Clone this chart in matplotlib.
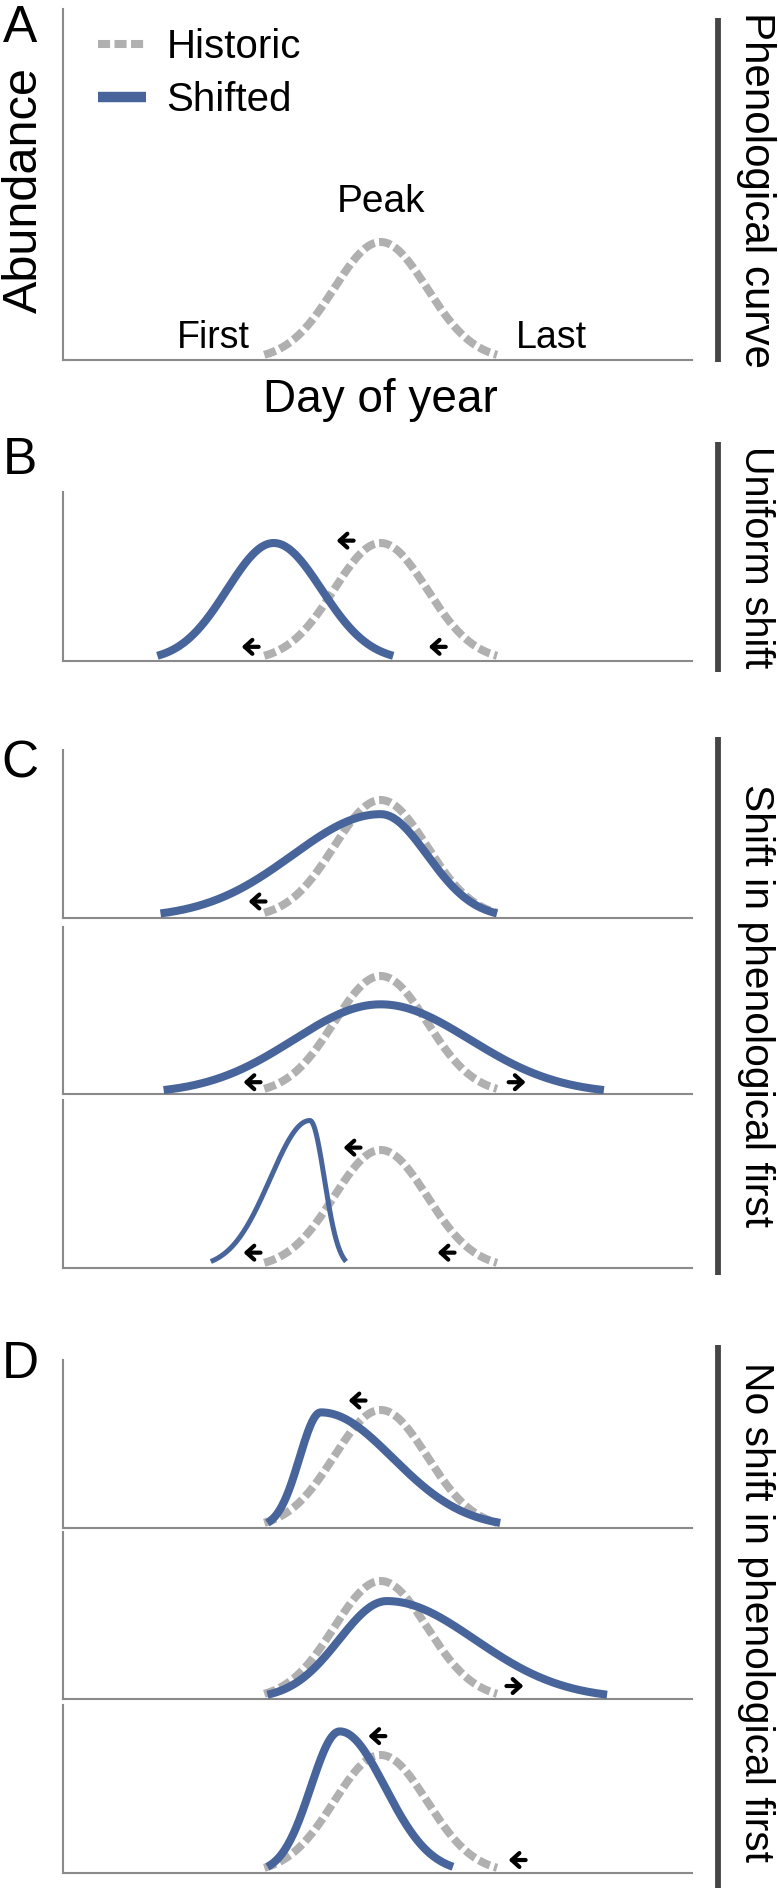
import numpy as np
import matplotlib
matplotlib.use("Agg")
import matplotlib.pyplot as plt
from matplotlib.lines import Line2D

plt.rcParams['font.family'] = ['Liberation Sans', 'DejaVu Sans']

W, H = 778, 1888
my_dpi = 100

# curve rows, top to bottom
rows = ['A', 'B', 'C1', 'C2', 'C3', 'D1', 'D2', 'D3']
row_top = [9, 492, 750, 927, 1100, 1360, 1532, 1705]        # px from top
row_bottom = [360, 661, 918, 1094, 1268, 1528, 1699, 1873]

# historic curve (day of year, relative abundance)
hist_first, hist_peak, hist_last, hist_height = 64, 101, 138, 1.0

# shifted curves (None for panel A)
shift_first = [None, 30, 31, 32, 47, 65, 65, 65]
shift_peak = [None, 67, 101, 101, 78.5, 82, 103, 88]
shift_last = [None, 105, 138, 172, 90, 139, 173, 124]
shift_height = [None, 1.0, 0.88, 0.76, 1.25, 0.98, 0.83, 1.2]
shift_lw = [None, 5.8, 5.8, 5.8, 3.6, 5.8, 5.8, 5.8]

# direction arrows
arrow_row = ['B', 'B', 'B', 'C1', 'C2', 'C2', 'C3', 'C3', 'C3', 'D1', 'D2', 'D3', 'D3']
arrow_x = [59.5, 89.7, 119, 61.7, 60.1, 144.4, 60.1, 91.9, 121.8, 93.5, 143.7, 99.8, 144.4]
arrow_y = [0.12, 1.02, 0.12, 0.14, 0.10, 0.10, 0.13, 1.02, 0.13, 1.08, 0.11, 1.16, 0.11]
arrow_dir = [-1, -1, -1, -1, -1, 1, -1, -1, -1, -1, 1, -1, -1]

# panel letters and side labels
panel_letters = ['A', 'B', 'C', 'D']
letter_y = [28, 461, 764, 1365]
side_labels = ['Phenological curve', 'Uniform shift', 'Shift in phenological first',
               'No shift in phenological first']
side_size = [30.3, 28.5, 29.3, 29.3]
bar_top = [18, 442, 737, 1345]
bar_bottom = [362, 672, 1275, 1888]

blue = '#48659b'
grey = '#b0b0b0'
spine_col = '#8a8a8a'
px_per_unit = 118.0


def curve(first, peak, last, height):
    # split normal: each side cut at 2.5 sd
    x = np.linspace(first, last, 400)
    sl = (peak - first) / 2.5
    sr = (last - peak) / 2.5
    s = np.where(x < peak, sl, sr)
    return x, height * np.exp(-0.5 * ((x - peak) / s) ** 2)


fig = plt.figure(figsize=(W / my_dpi, H / my_dpi), dpi=my_dpi)

axes = {}
for i, r in enumerate(rows):
    t, b = row_top[i], row_bottom[i]
    ax = fig.add_axes([63 / W, 1 - b / H, 629 / W, (b - t) / H])
    ax.set_xlim(0, 200)
    ax.set_ylim(0, (b - t) / px_per_unit)
    for side in ['top', 'right']:
        ax.spines[side].set_visible(False)
    for side in ['left', 'bottom']:
        ax.spines[side].set_color(spine_col)
        ax.spines[side].set_linewidth(1.5)
    ax.set_xticks([])
    ax.set_yticks([])
    ax.patch.set_alpha(0)

    hx, hy = curve(hist_first, hist_peak, hist_last, hist_height)
    ax.plot(hx, hy, color=grey, lw=5.8, dashes=(1.5, 0.55),
            solid_capstyle='butt', dash_capstyle='butt', zorder=2)
    if shift_first[i] is not None:
        sx, sy = curve(shift_first[i], shift_peak[i], shift_last[i], shift_height[i])
        ax.plot(sx, sy, color=blue, lw=shift_lw[i], solid_capstyle='butt', zorder=3)
    axes[r] = ax

for r, x, y, d in zip(arrow_row, arrow_x, arrow_y, arrow_dir):
    axes[r].annotate('', xy=(x + d * 2.7, y), xytext=(x - d * 2.7, y),
                     arrowprops=dict(arrowstyle='->,head_length=0.55,head_width=0.5',
                                     lw=3, color='black', shrinkA=0, shrinkB=0,
                                     mutation_scale=10))

# panel A annotations
axA = axes['A']
axA.text(hist_peak, 1.25, 'Peak', ha='center', va='baseline', fontsize=28)
axA.text(hist_first - 4.5, 0.1, 'First', ha='right', va='baseline', fontsize=27)
axA.text(hist_last + 6, 0.1, 'Last', ha='left', va='baseline', fontsize=27)
fig.text(380 / W, 1 - 412 / H, 'Day of year', ha='center', va='baseline', fontsize=33)
fig.text(24 / W, 1 - 190 / H, 'Abundance', ha='center', va='center', rotation=90, fontsize=35)

handles = [Line2D([], [], color=grey, lw=5.8, dashes=(1.5, 0.55), dash_capstyle='butt'),
           Line2D([], [], color=blue, lw=7.5, solid_capstyle='butt')]
fig.legend(handles, ['Historic', 'Shifted'], loc='upper left',
           bbox_to_anchor=(98 / W, 1 - 28 / H), bbox_transform=fig.transFigure,
           frameon=False, fontsize=29, handlelength=1.2, handletextpad=0.5,
           labelspacing=0.38, borderpad=0, borderaxespad=0)

for k in range(4):
    fig.text(20 / W, 1 - letter_y[k] / H, panel_letters[k], ha='center', va='center', fontsize=37)
    fig.add_artist(Line2D([718 / W, 718 / W], [1 - bar_top[k] / H, 1 - bar_bottom[k] / H],
                          color='#454545', lw=4.2, solid_capstyle='butt'))
    mid = (bar_top[k] + min(bar_bottom[k], 1878)) / 2
    fig.text(756 / W, 1 - mid / H, side_labels[k], ha='center', va='center',
             rotation=-90, fontsize=side_size[k])

fig.savefig('out.png', dpi=my_dpi)
